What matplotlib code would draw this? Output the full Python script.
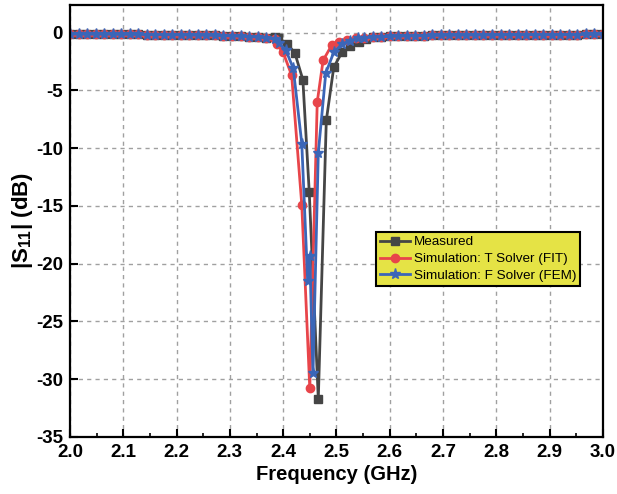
import matplotlib
matplotlib.use("Agg")
from matplotlib import pyplot as plt
from matplotlib.ticker import MultipleLocator
import numpy as np

plt.rcParams["font.family"] = ["Liberation Sans", "DejaVu Sans"]
plt.rcParams["mathtext.fontset"] = "custom"
plt.rcParams["mathtext.rm"] = "Liberation Sans"
plt.rcParams["mathtext.bf"] = "Liberation Sans:bold"
plt.rcParams["mathtext.default"] = "bf"
plt.rcParams["axes.unicode_minus"] = False

# frequency grid of the flat parts (GHz)
freq_left = [2.000, 2.016, 2.032, 2.048, 2.064, 2.080, 2.096, 2.112, 2.128, 2.144,
             2.160, 2.176, 2.192, 2.208, 2.224, 2.240, 2.256, 2.272, 2.288, 2.304,
             2.320, 2.336, 2.352, 2.368]
freq_right = [2.568, 2.584, 2.600, 2.616, 2.632, 2.648, 2.664, 2.680, 2.696, 2.712,
              2.728, 2.744, 2.760, 2.776, 2.792, 2.808, 2.824, 2.840, 2.856, 2.872,
              2.888, 2.904, 2.920, 2.936, 2.952, 2.968, 2.984, 3.000]

# flat part values (dB)
flat_left = [-0.12, -0.12, -0.13, -0.13, -0.13, -0.14, -0.14, -0.15, -0.15, -0.16,
             -0.16, -0.17, -0.18, -0.19, -0.20, -0.21, -0.22, -0.24, -0.26, -0.28,
             -0.31, -0.34, -0.38, -0.45]
flat_right = [-0.40, -0.36, -0.33, -0.30, -0.28, -0.26, -0.25, -0.24, -0.23, -0.22,
              -0.21, -0.20, -0.20, -0.19, -0.19, -0.18, -0.18, -0.18, -0.17, -0.17,
              -0.17, -0.16, -0.16, -0.16, -0.16, -0.15, -0.15, -0.15]

# resonance region
meas_f = [2.384, 2.391, 2.407, 2.422, 2.437, 2.449, 2.466, 2.481, 2.495, 2.511, 2.526, 2.542, 2.555]
meas_s = [-0.40, -0.46, -0.95, -1.76, -4.07, -13.8, -31.7, -7.6, -3.0, -1.65, -1.13, -0.80, -0.55]

fit_f = [2.384, 2.388, 2.400, 2.416, 2.435, 2.450, 2.464, 2.475, 2.491, 2.505, 2.520, 2.536, 2.552]
fit_s = [-0.55, -1.0, -1.7, -3.7, -14.9, -30.8, -6.0, -2.4, -1.1, -0.8, -0.6, -0.5, -0.45]

fem_f = [2.384, 2.392, 2.405, 2.419, 2.435, 2.446, 2.450, 2.456, 2.466, 2.480, 2.495, 2.510, 2.525, 2.540, 2.552]
fem_s = [-0.55, -0.9, -1.5, -3.1, -9.6, -21.5, -19.3, -29.5, -10.4, -3.5, -1.7, -1.0, -0.7, -0.5, -0.42]

x_meas = np.array(freq_left + meas_f + freq_right)
y_meas = np.array(flat_left + meas_s + flat_right)
x_fit = np.array(freq_left + fit_f + freq_right)
y_fit = np.array(flat_left + fit_s + flat_right)
x_fem = np.array(freq_left + fem_f + freq_right)
y_fem = np.array(flat_left + fem_s + flat_right)

fig = plt.figure(figsize=(6.17, 4.94), dpi=100)
ax = fig.add_axes([0.1135, 0.1154, 0.8635, 0.8746])

ax.plot(x_meas, y_meas, color="#454545", linewidth=2, marker="s", markersize=5.5, label="Measured")
ax.plot(x_fit, y_fit, color="#e8454a", linewidth=2, marker="o", markersize=6, label="Simulation: T Solver (FIT)")
ax.plot(x_fem, y_fem, color="#3b66b8", linewidth=2, marker="*", markersize=8, label="Simulation: F Solver (FEM)")

ax.set_xlim(2.0, 3.0)
ax.set_ylim(-35, 2.4)
ax.xaxis.set_major_locator(MultipleLocator(0.1))
ax.xaxis.set_minor_locator(MultipleLocator(0.05))
ax.yaxis.set_major_locator(MultipleLocator(5))
ax.xaxis.set_major_formatter(matplotlib.ticker.FormatStrFormatter("%.1f"))
ax.tick_params(which="major", direction="in", length=6, width=1.5, labelsize=13.5)
ax.tick_params(axis="x", which="major", pad=5)
ax.tick_params(axis="y", which="major", pad=5)
ax.tick_params(which="minor", direction="in", length=3, width=1.2)
for lab in ax.get_xticklabels() + ax.get_yticklabels():
    lab.set_fontweight("bold")
for s in ax.spines.values():
    s.set_linewidth(1.6)

ax.grid(True, which="major", color="#a0a0a0", linestyle=(0, (3, 3)), linewidth=1)

ax.set_xlabel("Frequency (GHz)", fontsize=14.5, fontweight="bold", labelpad=3)
ax.set_ylabel("|S$_{11}$| (dB)", fontsize=16, fontweight="bold", labelpad=1)

leg = ax.legend(loc="upper left", bbox_to_anchor=(0.574, 0.4745), fontsize=9.7,
                fancybox=False, framealpha=1, facecolor="#e5e345", edgecolor="black",
                handlelength=2.2, borderpad=0.3, labelspacing=0.33, handletextpad=0.3,
                borderaxespad=0)
leg.get_frame().set_linewidth(1.5)

plt.savefig("out.png", dpi=100)
